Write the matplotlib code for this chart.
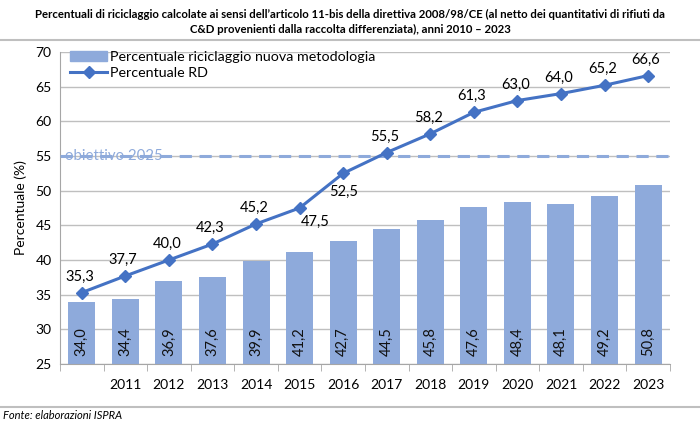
import matplotlib
matplotlib.use("Agg")
import matplotlib.pyplot as plt
from matplotlib.lines import Line2D

years = list(range(2010, 2024))
year_labels = [""] + [str(y) for y in years[1:]]
nuova_metodologia = [34.0, 34.4, 36.9, 37.6, 39.9, 41.2, 42.7, 44.5, 45.8, 47.6, 48.4, 48.1, 49.2, 50.8]
perc_rd = [35.3, 37.7, 40.0, 42.3, 45.2, 47.5, 52.5, 55.5, 58.2, 61.3, 63.0, 64.0, 65.2, 66.6]
obiettivo = 55

BAR_C = "#8EAADB"
LINE_C = "#4472C4"
plt.rcParams["font.family"] = ["Lato", "DejaVu Sans"]

fig = plt.figure(figsize=(7, 4.21), dpi=100)
ax = fig.add_axes([0.0857, 0.1354, 0.8713, 0.7411])
x = list(range(len(years)))

ax.bar(x, [v - 25 for v in nuova_metodologia], bottom=25, width=0.62, color=BAR_C, zorder=2)
ax.plot(x, perc_rd, color=LINE_C, lw=2.2, marker="D", ms=6, zorder=4)
ax.axhline(obiettivo, color=BAR_C, lw=2.2, ls=(0, (4, 2.5)), zorder=3)
ax.text(-0.38, obiettivo, "obiettivo 2025", color=BAR_C, fontsize=10.8,
        va="center", ha="left", zorder=3)

for i, v in enumerate(nuova_metodologia):
    ax.text(i, 26.2, f"{v:.1f}".replace(".", ","), rotation=90, ha="center", va="bottom",
            fontsize=10.5, color="#111111", zorder=5)

for i, v in enumerate(perc_rd):
    s = f"{v:.1f}".replace(".", ",")
    if i == 5:
        ax.text(i + 0.35, v - 1.0, s, ha="center", va="top", fontsize=10.5, zorder=5)
    elif i == 6:
        ax.text(i, v - 1.6, s, ha="center", va="top", fontsize=10.5, zorder=5)
    else:
        ax.text(i - 0.05, v + 1.3, s, ha="center", va="bottom", fontsize=10.5, zorder=5)

ax.set_xlim(-0.5, 13.5)
ax.set_ylim(25, 70)
ax.set_yticks(range(25, 71, 5))
ax.set_xticks(x)
ax.set_xticklabels(year_labels)
ax.set_xticks([i + 0.5 for i in range(-1, 14)], minor=True)
ax.tick_params(axis="x", which="major", length=0, labelsize=10, pad=11)
ax.tick_params(axis="x", which="minor", length=5, color="#A6A6A6")
ax.tick_params(axis="y", length=0, labelsize=10, pad=6)
ax.grid(axis="y", color="#BFBFBF", lw=1, zorder=0)
for side in ["top", "right"]:
    ax.spines[side].set_visible(False)
ax.spines["left"].set_color("#A6A6A6")
ax.spines["bottom"].set_color("#A6A6A6")
ax.set_ylabel("Percentuale (%)", fontsize=10, labelpad=6)

handles = [plt.Rectangle((0, 0), 1, 1, color=BAR_C),
           Line2D([0], [0], color=LINE_C, lw=2.2, marker="D", ms=6)]
ax.legend(handles, ["Percentuale riciclaggio nuova metodologia", "Percentuale RD"],
          loc="upper left", bbox_to_anchor=(0.0, 1.035), frameon=False, fontsize=10.3,
          handlelength=2.6, handletextpad=0.2, labelspacing=0.3, borderaxespad=0.3)

fig.text(0.5, 0.978, "Percentuali di riciclaggio calcolate ai sensi dell\u2019articolo 11-bis della direttiva 2008/98/CE (al netto dei quantitativi di rifiuti da",
         ha="center", va="top", fontsize=8.2, fontweight="bold")
fig.text(0.5, 0.942, "C&D provenienti dalla raccolta differenziata), anni 2010 \u2013 2023",
         ha="center", va="top", fontsize=8.2, fontweight="bold")
fig.add_artist(Line2D([0, 1], [0.905, 0.905], color="#BFBFBF", lw=1.5, transform=fig.transFigure))
fig.add_artist(Line2D([0, 1], [0.033, 0.033], color="#BFBFBF", lw=1.5, transform=fig.transFigure))
fig.text(0.004, 0.014, "Fonte: elaborazioni ISPRA", ha="left", va="center", fontsize=8, style="italic")

fig.savefig("out.png", dpi=100)
